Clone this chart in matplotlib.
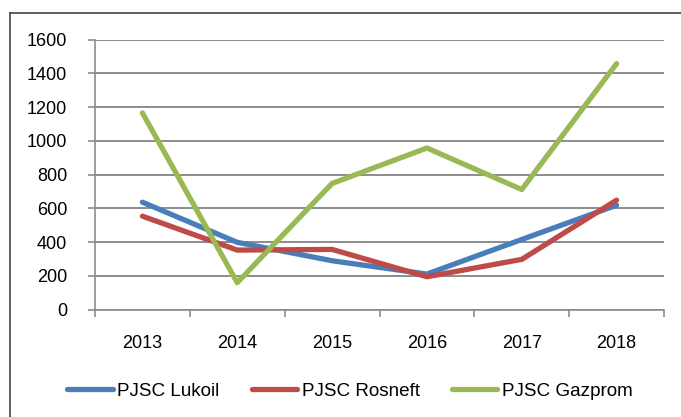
import matplotlib.pyplot as plt
from matplotlib.lines import Line2D

plt.rcParams['font.family'] = ['Liberation Sans', 'DejaVu Sans']

years = ['2013', '2014', '2015', '2016', '2017', '2018']
lukoil = [636, 398, 289, 210, 415, 618]
rosneft = [553, 352, 356, 194, 297, 648]
gazprom = [1165, 159, 747, 957, 711, 1457]

series = [
    ('PJSC Lukoil', lukoil, '#4A7EBB'),
    ('PJSC Rosneft', rosneft, '#BE4B48'),
    ('PJSC Gazprom', gazprom, '#98B954'),
]

fig = plt.figure(figsize=(6.81, 4.17), dpi=100)
ax = fig.add_axes([95 / 681, 1 - 309.5 / 417, 569 / 681, 270 / 417])

x = range(len(years))
for name, vals, col in series:
    ax.plot(x, vals, color=col, linewidth=3.8, label=name, solid_capstyle='round', solid_joinstyle='round')

ax.set_ylim(0, 1600)
ax.set_xlim(-0.5, len(years) - 0.5)
ax.set_yticks(range(0, 1601, 200))
ax.yaxis.grid(True, color='#8c8c8c', linewidth=1.4)
ax.set_axisbelow(True)

# category boundaries as major ticks, labels at the centres
ax.set_xticks([i - 0.5 for i in range(len(years) + 1)])
ax.set_xticklabels([])
ax.set_xticks(list(x), minor=True)
ax.set_xticklabels(years, minor=True)
ax.tick_params(axis='x', which='major', length=5, width=1.2, color='#8c8c8c', direction='out')
ax.tick_params(axis='x', which='minor', length=0, pad=18, labelsize=13)
ax.tick_params(axis='y', length=5, width=1.2, color='#8c8c8c', pad=15, labelsize=13)

for s in ['top', 'right']:
    ax.spines[s].set_visible(False)
for s in ['left', 'bottom']:
    ax.spines[s].set_color('#8c8c8c')
    ax.spines[s].set_linewidth(1.2)

handles = [Line2D([], [], color=c, linewidth=3.8, solid_capstyle='round') for _, _, c in series]
fig.legend(handles, [n for n, _, _ in series], loc='center', bbox_to_anchor=(350 / 681, 1 - 391 / 417),
           ncol=3, frameon=False, fontsize=13.6, handlelength=2.4, handletextpad=0.25, columnspacing=1.7)

# outer frame of the chart area
fig.add_artist(Line2D([10 / 681, 10 / 681], [0, 1 - 13 / 417], color='#444444', linewidth=1.2))
fig.add_artist(Line2D([10 / 681, 1], [1 - 13 / 417, 1 - 13 / 417], color='#444444', linewidth=1.2))

fig.savefig('out.png', dpi=100)
